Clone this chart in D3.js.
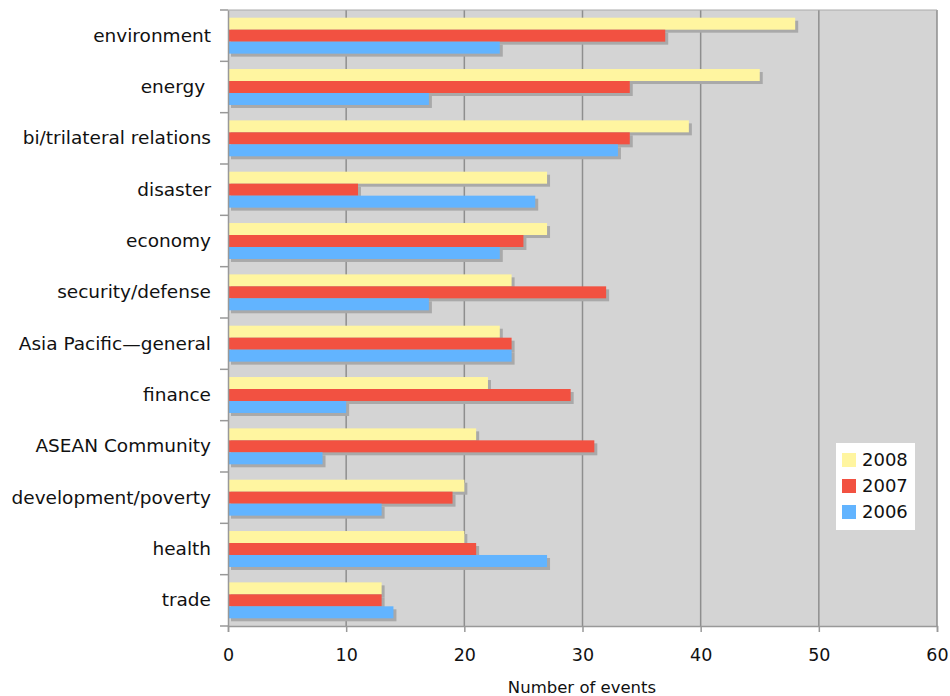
<!DOCTYPE html>
<html>
<head>
<meta charset="utf-8">
<script src="https://cdn.jsdelivr.net/npm/d3@7"></script>
<style>
  body { margin: 0; background: #fff; }
  text { font-family: "DejaVu Sans", Verdana, sans-serif; fill: #111; }
</style>
</head>
<body>
<div id="chart"></div>
<script>
const categories = [
  "environment", "energy\u00a0", "bi/trilateral relations", "disaster", "economy",
  "security/defense", "Asia Pacific\u2014general", "finance", "ASEAN Community",
  "development/poverty", "health", "trade"
];
const seriesNames = ["2008", "2007", "2006"];
const values2008 = [48, 45, 39, 27, 27, 24, 23, 22, 21, 20, 20, 13];
const values2007 = [37, 34, 34, 11, 25, 32, 24, 29, 31, 19, 21, 13];
const values2006 = [23, 17, 33, 26, 23, 17, 24, 10, 8, 13, 27, 14];
const xTicks = [0, 10, 20, 30, 40, 50, 60];
const colors = { "2008": "#fff5a0", "2007": "#f25141", "2006": "#62b4ff" };

const width = 950, height = 696;
const margin = { top: 10, right: 13, bottom: 70, left: 228 };
const innerW = width - margin.left - margin.right,
  innerH = height - margin.top - margin.bottom;

const svg = d3.select("#chart").append("svg")
  .attr("width", width).attr("height", height);
const g = svg.append("g").attr("transform", `translate(${margin.left},${margin.top})`);

const x = d3.scaleLinear().domain([0, 60]).range([0, innerW]);
const y = d3.scaleBand().domain(categories).range([0, innerH])
  .paddingInner(0.3).paddingOuter(0.15);
const ySub = d3.scaleBand().domain(seriesNames).range([0, y.bandwidth()]);

// plot background
g.append("rect").attr("width", innerW).attr("height", innerH).attr("fill", "#d4d4d4");

// vertical gridlines
g.selectAll(".grid").data(xTicks.slice(1)).join("line")
  .attr("x1", d => x(d)).attr("x2", d => x(d))
  .attr("y1", 0).attr("y2", innerH)
  .attr("stroke", "#8e8e8e").attr("stroke-width", 1.5);
g.append("line").attr("x1", 0).attr("x2", innerW).attr("y1", 0).attr("y2", 0)
  .attr("stroke", "#aaa").attr("stroke-width", 1);

const rows = categories.map((c, i) => ({
  cat: c,
  vals: [values2008[i], values2007[i], values2006[i]]
}));

const groups = g.selectAll(".cat").data(rows).join("g")
  .attr("transform", d => `translate(0,${y(d.cat)})`);

// shadows first
groups.selectAll(".shadow").data(d => d.vals.map((v, k) => ({ s: seriesNames[k], v })))
  .join("rect")
  .attr("x", 3).attr("y", d => ySub(d.s) + 3)
  .attr("width", d => x(d.v)).attr("height", ySub.bandwidth())
  .attr("fill", "#a9a9a9");

groups.selectAll(".bar").data(d => d.vals.map((v, k) => ({ s: seriesNames[k], v })))
  .join("rect")
  .attr("x", 0).attr("y", d => ySub(d.s))
  .attr("width", d => x(d.v)).attr("height", ySub.bandwidth())
  .attr("fill", d => colors[d.s]);

// left axis
const yAxis = g.append("g")
  .call(d3.axisLeft(y).tickSize(0).tickPadding(17));
yAxis.select(".domain").attr("stroke", "#999").attr("stroke-width", 1.5);
yAxis.selectAll("text").style("font-size", "18.5px").attr("fill", "#111");
// category separator ticks
g.selectAll(".ytick").data(d3.range(categories.length + 1)).join("line")
  .attr("x1", -8).attr("x2", 0)
  .attr("y1", i => i * innerH / categories.length)
  .attr("y2", i => i * innerH / categories.length)
  .attr("stroke", "#999").attr("stroke-width", 1.5);

// bottom axis
const xAxis = g.append("g").attr("transform", `translate(0,${innerH})`)
  .call(d3.axisBottom(x).tickValues(xTicks).tickSize(6).tickPadding(17));
xAxis.select(".domain").attr("stroke", "#999").attr("stroke-width", 1.5);
xAxis.selectAll(".tick line").attr("stroke", "#999").attr("stroke-width", 1.5);
xAxis.selectAll("text").style("font-size", "17.5px").attr("fill", "#111");

svg.append("text")
  .attr("x", 582).attr("y", 693)
  .attr("text-anchor", "middle").style("font-size", "16.5px")
  .text("Number of events");

// legend
const leg = svg.append("g").attr("transform", "translate(836,443)");
leg.append("rect").attr("width", 79).attr("height", 87).attr("fill", "#fff");
seriesNames.forEach((s, i) => {
  const row = leg.append("g").attr("transform", `translate(6,${10 + i * 26})`);
  row.append("rect").attr("width", 14).attr("height", 14).attr("fill", colors[s]);
  row.append("text").attr("x", 20).attr("y", 13).style("font-size", "18px").text(s);
});
</script>
</body>
</html>
